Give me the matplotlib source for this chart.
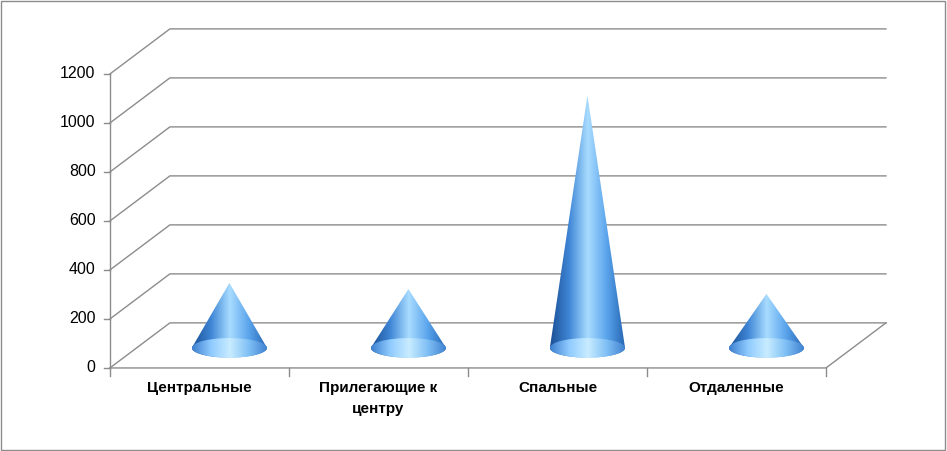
import numpy as np
import matplotlib.pyplot as plt
from matplotlib.patches import Polygon, Ellipse
from matplotlib.colors import LinearSegmentedColormap

plt.rcParams['font.family'] = ['Liberation Sans', 'DejaVu Sans']

categories = ['Центральные', 'Прилегающие к\nцентру', 'Спальные', 'Отдаленные']
values = [265, 240, 1030, 220]
ticks = [0, 200, 400, 600, 800, 1000, 1200]

# pseudo 3d depth offsets (category units, value units)
DX, DY = 0.335, 184
HALF_W = 0.21
ELL_H = 80

fig = plt.figure(figsize=(9.47, 4.51), dpi=100)
ax = fig.add_axes([0, 0, 1, 1])
ax.set_xlim(-1.114, 4.176)
ax.set_ylim(-339, 1502)
ax.axis('off')

grid = '#8c8c8c'
for v in ticks:
    ax.plot([-0.5, -0.5 + DX, 3.5 + DX], [v, v + DY, v + DY], color=grid, lw=1)
ax.plot([-0.5, 3.5, 3.5 + DX], [0, 0, DY], color=grid, lw=1)
ax.plot([-0.5, -0.5], [0, 1200], color=grid, lw=1)
for v in ticks:
    ax.plot([-0.535, -0.5], [v, v], color=grid, lw=1)
    ax.text(-0.58, v, str(v), ha='right', va='center', fontsize=11.5)
for k in range(5):
    ax.plot([-0.5 + k, -0.5 + k], [0, -33], color=grid, lw=1)

cmap = LinearSegmentedColormap.from_list(
    'cone', ['#1a4f94', '#3f86d6', '#a8dcff', '#5aa4ec', '#2363b0'])
base_cmap = LinearSegmentedColormap.from_list(
    'base', ['#3d7fcf', '#8fcbff', '#c8ecff', '#7fbff5', '#3d7fcf'])
grad = np.linspace(0, 1, 256).reshape(1, -1)

for i, (cat, val) in enumerate(zip(categories, values)):
    cx = i + DX / 2
    cy = DY / 2 - 10
    x0, x1 = cx - HALF_W, cx + HALF_W
    t = np.linspace(np.pi, 2 * np.pi, 60)
    arc = np.column_stack([cx + HALF_W * np.cos(t), cy + ELL_H / 2 * np.sin(t)])
    pts = np.vstack([[[cx, cy + val]], arc])
    cone = Polygon(pts, closed=True, facecolor='none', edgecolor='none')
    ax.add_patch(cone)
    im = ax.imshow(grad, cmap=cmap, extent=[x0, x1, cy - ELL_H, cy + val],
                   aspect='auto', zorder=3)
    im.set_clip_path(cone)
    ell = Ellipse((cx, cy), 2 * HALF_W, ELL_H, facecolor='none', edgecolor='none')
    ax.add_patch(ell)
    im2 = ax.imshow(grad, cmap=base_cmap, extent=[x0, x1, cy - ELL_H, cy + ELL_H],
                    aspect='auto', zorder=4)
    im2.set_clip_path(ell)
    ax.text(i, -55, cat, ha='center', va='top', fontsize=11, fontweight='bold',
            linespacing=1.6)

fig.add_artist(plt.Rectangle((0.001, 0.002), 0.997, 0.995, transform=fig.transFigure,
                             fill=False, edgecolor='#8c8c8c', lw=1))
fig.savefig('out.png', dpi=100)
